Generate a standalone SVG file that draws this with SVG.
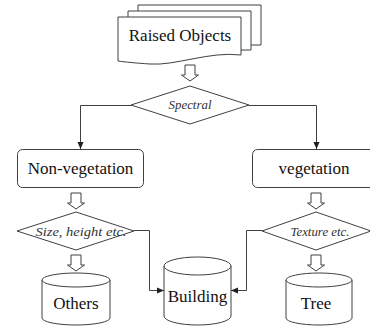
<svg xmlns="http://www.w3.org/2000/svg" width="370" height="327" viewBox="0 0 370 327">
<style>
.sh{fill:#fff;stroke:#404040;stroke-width:1}
.ln{fill:none;stroke:#404040;stroke-width:1}
text{font-family:'Liberation Serif','DejaVu Serif',serif}
.t{font-size:17px;fill:#111;text-anchor:middle}
.ti{font-size:13px;font-style:italic;fill:#333;text-anchor:middle}
</style>
<defs>
<marker id="ah" viewBox="0 0 8 8" refX="8" refY="4" markerWidth="7" markerHeight="7" orient="auto" markerUnits="userSpaceOnUse">
<path d="M0,0.5 L8,4 L0,7.5 Z" fill="#202020"/>
</marker>
<path id="hollow" d="M-5,0 H5 V10 H8.5 L0,16 L-8.5,10 H-5 Z"/>
</defs>
<rect width="370" height="327" fill="#fff"/>

<g id="raised-objects">
<path class="ln" d="M138,11 V5 H261 V45 H251"/>
<path class="ln" d="M128,17 V11 H251 V50 H241"/>
<path class="sh" d="M118,17 H241 V55 C210,51 175,66 150,64 C135,63 125,62 118,61 Z"/>
<text class="t" x="180" y="41" font-family="Liberation Serif, serif">Raised Objects</text>
</g>

<g id="spectral">
<polygon class="sh" points="131,105 190,86 249,105 190,124"/>
<text class="ti" x="190" y="109" textLength="43" lengthAdjust="spacingAndGlyphs" font-family="Liberation Serif, serif">Spectral</text>
</g>

<g id="non-vegetation">
<rect class="sh" x="17.5" y="149.5" width="126" height="38" rx="5"/>
<text class="t" x="80.5" y="174" font-family="Liberation Serif, serif">Non-vegetation</text>
</g>

<g id="vegetation">
<rect class="sh" x="252.5" y="149.5" width="126" height="38" rx="5"/>
<text class="t" x="314" y="174" font-family="Liberation Serif, serif">vegetation</text>
</g>

<g id="size-height">
<polygon class="sh" points="17,231 76,212 134,231 76,250"/>
<text class="ti" x="81" y="236" textLength="91" lengthAdjust="spacingAndGlyphs" font-family="Liberation Serif, serif">Size, height etc.</text>
</g>

<g id="texture">
<polygon class="sh" points="262,231 316,212 371,231 316,250"/>
<text class="ti" x="320" y="236" textLength="59" lengthAdjust="spacingAndGlyphs" font-family="Liberation Serif, serif">Texture etc.</text>
</g>

<g id="others">
<path class="sh" d="M42,280 V318 A34,7 0 0 0 110,318 V280"/>
<ellipse class="sh" cx="76" cy="280" rx="34" ry="7"/>
<text class="t" x="76" y="309" font-family="Liberation Serif, serif">Others</text>
</g>

<g id="building">
<path class="sh" d="M164,266 V316 A33.5,9 0 0 0 231,316 V266"/>
<ellipse class="sh" cx="197.5" cy="266" rx="33.5" ry="9"/>
<text class="t" x="197.5" y="302" font-family="Liberation Serif, serif">Building</text>
</g>

<g id="tree">
<path class="sh" d="M286,280 V318 A33,7 0 0 0 352,318 V280"/>
<ellipse class="sh" cx="319" cy="280" rx="33" ry="7"/>
<text class="t" x="316" y="309" font-family="Liberation Serif, serif">Tree</text>
</g>

<g id="connectors">
<use href="#hollow" class="sh" x="190" y="65"/>
<use href="#hollow" class="sh" x="76" y="193"/>
<use href="#hollow" class="sh" x="316" y="193"/>
<use href="#hollow" class="sh" x="76" y="255"/>
<use href="#hollow" class="sh" x="316" y="255"/>
<path class="ln" d="M131,105.5 H80.5 V149" marker-end="url(#ah)"/>
<path class="ln" d="M249,105.5 H316.5 V149" marker-end="url(#ah)"/>
<path class="ln" d="M134,230.5 H149.5 V290.5 H164" marker-end="url(#ah)"/>
<path class="ln" d="M262,230.5 H246.5 V290.5 H231" marker-end="url(#ah)"/>
</g>
</svg>
